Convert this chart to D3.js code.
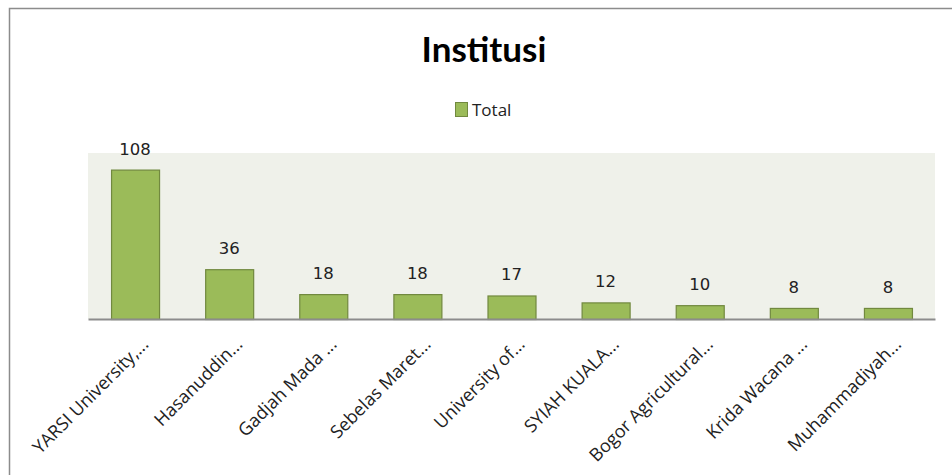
<!DOCTYPE html>
<html>
<head>
<meta charset="utf-8">
<script src="https://cdn.jsdelivr.net/npm/d3@7"></script>
<style>
  body { margin: 0; background: #fff; }
  svg { display: block; }
</style>
</head>
<body>
<div id="chart"></div>
<script>
const institusi = ["YARSI University,...", "Hasanuddin...", "Gadjah Mada ...", "Sebelas Maret...",
    "University of...", "SYIAH KUALA...", "Bogor Agricultural...", "Krida Wacana ...", "Muhammadiyah..."];
const total = [108, 36, 18, 18, 17, 12, 10, 8, 8];
const yMax = 120;

const svgWidth = 952, svgHeight = 475;
const margin = { top: 153, right: 17, bottom: 156, left: 88 };
const width = svgWidth - margin.left - margin.right;
const height = svgHeight - margin.top - margin.bottom;

const svg = d3.select("#chart")
    .append("svg")
    .attr("width", svgWidth)
    .attr("height", svgHeight);

// marco del gráfico
svg.append("rect")
    .attr("x", 9.5).attr("y", 8.5)
    .attr("width", 1000).attr("height", 600)
    .attr("fill", "none")
    .attr("stroke", "#8c8c8c")
    .attr("stroke-width", 1.5);

// título
svg.append("text")
    .attr("x", 484).attr("y", 62)
    .attr("text-anchor", "middle")
    .style("font-family", "Lato, 'Open Sans', sans-serif")
    .style("font-weight", "bold")
    .style("font-size", "35px")
    .attr("fill", "#000")
    .text("Institusi");

// leyenda
const legend = svg.append("g").attr("transform", "translate(455, 102)");
legend.append("rect").attr("x", 0.5).attr("y", 0.5).attr("width", 12).attr("height", 14)
    .attr("fill", "#9bbb59").attr("stroke", "#71893f");
legend.append("text").attr("x", 17).attr("y", 8).attr("dy", "0.35em")
    .style("font-family", "'Open Sans', sans-serif").style("font-size", "17px")
    .attr("fill", "#222").text("Total");

const g = svg.append("g")
    .attr("transform", `translate(${margin.left}, ${margin.top})`);

// fondo del área
g.append("rect").attr("width", width).attr("height", height).attr("fill", "#eff1ea");

const x = d3.scaleBand()
    .domain(institusi)
    .range([0, width])
    .paddingInner(0.49)
    .paddingOuter(0.245);

const y = d3.scaleLinear()
    .domain([0, yMax])
    .range([height, 0]);

// barras
g.selectAll(".bar")
    .data(total)
    .enter()
    .append("rect")
    .attr("x", (d, i) => x(institusi[i]) + 0.5)
    .attr("y", d => y(d) + 0.5)
    .attr("width", x.bandwidth())
    .attr("height", d => height - y(d))
    .attr("fill", "#9bbb59")
    .attr("stroke", "#71893f")
    .attr("stroke-width", 1.2);

// etiquetas de valor
g.selectAll(".val")
    .data(total)
    .enter()
    .append("text")
    .attr("x", (d, i) => x(institusi[i]) + x.bandwidth() / 2)
    .attr("y", d => y(d) - 15)
    .attr("text-anchor", "middle")
    .style("font-family", "'DejaVu Sans', Verdana, sans-serif")
    .style("font-size", "16.5px")
    .attr("fill", "#222")
    .text(d => d);

// eje X
const xAxis = g.append("g")
    .attr("transform", `translate(0, ${height})`)
    .call(d3.axisBottom(x).tickSize(0).tickPadding(0));
xAxis.select(".domain").attr("stroke", "#8c8c8c").attr("stroke-width", 2);
xAxis.selectAll("text")
    .style("font-family", "'Open Sans', sans-serif")
    .style("font-size", "18px")
    .attr("fill", "#222")
    .attr("text-anchor", "end")
    .attr("dy", "0.35em")
    .attr("transform", "translate(10, 22) rotate(-45)");
</script>
</body>
</html>
